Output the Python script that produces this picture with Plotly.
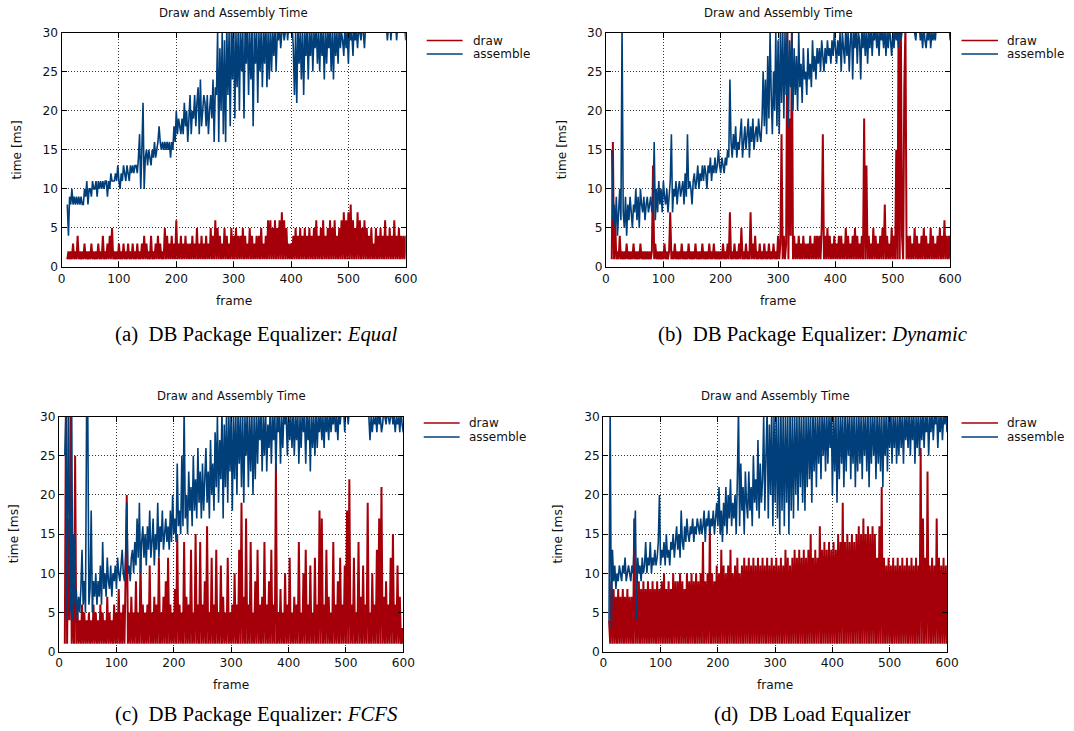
import plotly.graph_objects as go

W, H = 1074, 731

# frame numbers (every second frame, 10..600)
frames = list(range(10, 601, 2))

# ---------------- (a) Equal ----------------
a_draw = [
    1, 2, 1, 2, 1, 3, 1, 2, 1, 4,
    1, 2, 1, 2, 1, 3, 1, 2, 1, 2,
    1, 3, 1, 2, 1, 2, 1, 3, 1, 2,
    1, 4, 1, 2, 1, 3, 1, 4, 1, 5,
    1, 2, 1, 2, 1, 3, 1, 2, 1, 3,
    1, 2, 1, 3, 1, 2, 1, 3, 1, 2,
    1, 3, 1, 2, 1, 3, 1, 4, 1, 3,
    1, 2, 1, 4, 1, 2, 1, 3, 1, 4,
    1, 3, 1, 2, 1, 5, 1, 4, 1, 3,
    1, 4, 1, 3, 1, 6, 1, 3, 1, 4,
    1, 3, 1, 4, 1, 3, 1, 3, 1, 4,
    1, 3, 1, 5, 1, 3, 1, 4, 1, 3,
    1, 4, 1, 3, 1, 5, 1, 4, 1, 6,
    1, 5, 1, 4, 1, 3, 1, 5, 1, 4,
    1, 3, 1, 5, 1, 4, 1, 5, 1, 4,
    1, 4, 1, 5, 1, 4, 1, 3, 1, 5,
    1, 4, 1, 3, 1, 4, 1, 4, 1, 5,
    1, 3, 1, 4, 1, 6, 1, 6, 1, 5,
    1, 6, 1, 5, 1, 6, 1, 7, 1, 6,
    1, 5, 1, 3, 1, 3, 1, 4, 1, 5,
    1, 4, 1, 5, 1, 4, 1, 5, 1, 4,
    1, 5, 1, 4, 1, 5, 1, 6, 1, 4,
    1, 5, 1, 6, 1, 4, 1, 5, 1, 6,
    1, 5, 1, 6, 1, 4, 1, 5, 1, 6,
    1, 7, 1, 6, 1, 7, 1, 8, 1, 6,
    1, 5, 1, 7, 1, 6, 1, 5, 1, 6,
    1, 5, 1, 4, 1, 5, 1, 3, 1, 5,
    1, 4, 1, 5, 1, 4, 1, 6, 1, 4,
    1, 5, 1, 4, 1, 6, 1, 4, 1, 5,
    1, 4, 1, 4, 1, 4,
]
a_assemble = [
    8, 4, 9, 8, 10, 8, 9, 8, 9, 8,
    9, 8, 9, 8, 8, 10, 9, 11, 8, 10,
    10, 9, 11, 10, 10, 11, 9, 11, 10, 11,
    10, 11, 10, 11, 11, 9, 11, 10, 12, 11,
    11, 11, 12, 11, 13, 11, 10, 12, 11, 13,
    12, 11, 13, 12, 11, 13, 12, 13, 12, 13,
    13, 12, 14, 17, 10, 15, 21, 10, 14, 15,
    13, 15, 14, 13, 15, 14, 16, 14, 15, 16,
    18, 16, 15, 16, 15, 16, 15, 16, 15, 16,
    14, 16, 15, 18, 16, 20, 17, 19, 18, 17,
    19, 17, 21, 18, 20, 16, 19, 22, 17, 20,
    19, 22, 18, 21, 23, 17, 24, 18, 20, 22,
    21, 18, 22, 17, 20, 22, 19, 24, 16, 23,
    22, 30, 16, 28, 20, 30, 17, 29, 16, 31,
    22, 30, 18, 31, 24, 32, 19, 30, 23, 31,
    20, 31, 25, 30, 19, 31, 26, 32, 22, 30,
    24, 31, 18, 30, 26, 31, 21, 30, 25, 31,
    23, 30, 26, 32, 23, 30, 24, 31, 25, 30,
    27, 31, 25, 30, 29, 31, 28, 30, 31, 29,
    30, 32, 29, 31, 30, 30, 31, 28, 22, 30,
    21, 31, 26, 30, 24, 31, 22, 30, 27, 31,
    24, 30, 27, 31, 25, 30, 28, 31, 26, 30,
    25, 31, 27, 30, 24, 31, 26, 30, 28, 31,
    25, 30, 24, 31, 27, 30, 26, 31, 28, 30,
    29, 27, 31, 28, 30, 26, 31, 29, 30, 27,
    31, 29, 30, 28, 31, 30, 29, 31, 30, 28,
    31, 30, 32, 31, 30, 31, 32, 31, 30, 31,
    32, 31, 31, 32, 31, 33, 31, 32, 31, 29,
    31, 32, 29, 31, 32, 31, 32, 29, 31, 32,
    31, 32, 31, 30, 31, 29,
]

# ---------------- (b) Dynamic ----------------
b_draw = [
    1, 16, 1, 6, 1, 2, 1, 4, 1, 2,
    1, 2, 1, 3, 1, 2, 1, 2, 1, 3,
    1, 2, 1, 2, 1, 3, 1, 2, 1, 2,
    1, 2, 1, 2, 1, 2, 13, 1, 3, 1,
    2, 1, 2, 1, 2, 1, 3, 1, 2, 1,
    2, 7, 1, 2, 1, 3, 1, 2, 1, 2,
    1, 3, 1, 2, 1, 2, 1, 3, 1, 2,
    1, 2, 1, 3, 1, 2, 1, 2, 1, 3,
    1, 2, 1, 2, 1, 3, 1, 2, 1, 3,
    1, 2, 1, 2, 1, 2, 1, 3, 1, 2,
    1, 3, 1, 7, 1, 2, 1, 3, 1, 2,
    1, 3, 1, 5, 1, 2, 1, 3, 1, 2,
    1, 7, 1, 3, 1, 4, 1, 2, 1, 3,
    1, 2, 1, 3, 1, 2, 1, 3, 1, 2,
    1, 3, 1, 2, 1, 4, 1, 3, 17, 1,
    4, 1, 3, 31, 1, 19, 4, 31, 1, 4,
    1, 3, 1, 4, 1, 3, 1, 4, 1, 3,
    1, 3, 1, 4, 1, 3, 1, 4, 1, 4,
    1, 4, 1, 5, 17, 1, 4, 1, 5, 1,
    4, 1, 3, 1, 4, 1, 3, 1, 4, 1,
    4, 1, 3, 1, 5, 1, 4, 1, 3, 1,
    4, 1, 5, 1, 4, 1, 3, 1, 4, 1,
    19, 1, 13, 1, 4, 1, 3, 1, 5, 1,
    4, 1, 3, 1, 4, 1, 5, 1, 8, 1,
    4, 1, 3, 1, 5, 1, 4, 1, 15, 1,
    31, 1, 31, 4, 1, 23, 31, 1, 4, 1,
    4, 1, 3, 1, 5, 1, 4, 1, 3, 1,
    4, 1, 5, 1, 4, 1, 3, 1, 5, 1,
    4, 1, 3, 1, 4, 1, 5, 1, 4, 1,
    6, 1, 4, 1, 4, 1,
]
b_assemble = [
    15, 6, 8, 5, 9, 4, 7, 10, 6, 31,
    7, 5, 9, 4, 8, 6, 9, 7, 5, 8,
    7, 10, 6, 9, 5, 10, 8, 7, 9, 6,
    8, 9, 7, 8, 9, 7, 8, 16, 6, 10,
    7, 11, 8, 10, 7, 11, 9, 8, 10, 7,
    9, 11, 17, 7, 10, 9, 11, 8, 10, 11,
    9, 10, 11, 8, 12, 9, 17, 10, 11, 10,
    8, 11, 12, 10, 11, 13, 10, 12, 11, 13,
    11, 13, 12, 10, 13, 12, 14, 11, 13, 12,
    14, 12, 13, 15, 13, 12, 14, 13, 12, 14,
    13, 15, 14, 24, 16, 14, 17, 15, 18, 14,
    16, 15, 17, 19, 14, 16, 18, 15, 17, 19,
    14, 18, 16, 19, 15, 17, 18, 16, 19, 17,
    16, 19, 25, 18, 24, 17, 27, 19, 30, 22,
    17, 25, 20, 30, 18, 29, 17, 30, 21, 31,
    19, 30, 22, 31, 18, 29, 23, 30, 20, 28,
    22, 27, 20, 30, 23, 26, 21, 28, 24, 25,
    22, 28, 24, 26, 23, 29, 25, 27, 24, 28,
    26, 28, 25, 29, 27, 25, 28, 26, 29, 27,
    28, 26, 29, 27, 30, 28, 26, 29, 27, 30,
    25, 30, 28, 26, 31, 27, 30, 25, 29, 31,
    24, 30, 28, 31, 26, 30, 29, 24, 31, 28,
    30, 27, 31, 26, 30, 28, 31, 27, 30, 29,
    31, 28, 30, 27, 31, 29, 30, 28, 31, 27,
    30, 28, 31, 29, 27, 30, 28, 31, 29, 30,
    28, 31, 29, 30, 31, 30, 31, 32, 31, 30,
    31, 30, 32, 31, 30, 29, 31, 30, 31, 29,
    30, 28, 31, 29, 28, 30, 29, 31, 28, 30,
    29, 30, 29, 31, 30, 32, 31, 30, 31, 32,
    31, 30, 31, 32, 31, 29,
]

# ---------------- (c) FCFS ----------------
c_draw = [
    1, 31, 1, 17, 4, 31, 1, 7, 1, 25,
    1, 5, 1, 4, 1, 6, 1, 5, 1, 4,
    1, 5, 1, 4, 1, 6, 1, 5, 1, 4,
    1, 6, 1, 5, 1, 4, 1, 7, 1, 5,
    1, 4, 1, 6, 1, 5, 1, 8, 1, 5,
    1, 6, 1, 10, 20, 1, 5, 1, 7, 1,
    5, 1, 9, 1, 5, 1, 12, 1, 6, 1,
    5, 1, 6, 1, 11, 1, 5, 1, 7, 1,
    6, 1, 12, 1, 5, 1, 7, 1, 9, 1,
    12, 1, 6, 1, 5, 1, 8, 1, 15, 1,
    6, 1, 5, 1, 14, 1, 7, 1, 6, 1,
    13, 1, 5, 1, 15, 1, 6, 1, 14, 1,
    6, 1, 9, 1, 16, 1, 5, 1, 12, 1,
    6, 1, 13, 1, 5, 1, 11, 1, 7, 1,
    5, 1, 12, 1, 5, 1, 6, 1, 10, 1,
    6, 1, 13, 1, 19, 1, 7, 1, 17, 1,
    6, 1, 14, 1, 5, 1, 9, 1, 13, 1,
    6, 1, 7, 1, 14, 1, 6, 1, 9, 1,
    13, 1, 6, 1, 24, 1, 5, 1, 8, 1,
    5, 1, 10, 1, 6, 1, 12, 1, 5, 1,
    7, 1, 6, 1, 14, 1, 5, 1, 10, 1,
    13, 1, 6, 1, 11, 1, 5, 1, 12, 1,
    6, 1, 18, 1, 17, 1, 6, 1, 13, 1,
    7, 1, 5, 1, 14, 1, 6, 1, 9, 1,
    12, 1, 6, 1, 11, 1, 18, 1, 22, 1,
    6, 1, 12, 1, 5, 1, 14, 1, 7, 1,
    11, 1, 6, 1, 19, 1, 5, 1, 10, 1,
    6, 1, 13, 1, 17, 1, 21, 1, 7, 1,
    9, 1, 6, 1, 12, 1, 15, 1, 6, 1,
    11, 1, 7, 1, 3, 1,
]
c_assemble = [
    25, 31, 4, 31, 17, 5, 31, 4, 15, 6,
    8, 4, 7, 5, 8, 13, 6, 9, 5, 31,
    31, 6, 8, 18, 5, 9, 7, 10, 6, 9,
    7, 11, 6, 14, 8, 10, 7, 12, 9, 8,
    11, 7, 10, 9, 11, 8, 12, 10, 9, 11,
    13, 10, 9, 12, 19, 10, 11, 9, 12, 13,
    10, 14, 11, 17, 12, 19, 10, 14, 16, 12,
    15, 11, 16, 13, 18, 12, 14, 17, 11, 15,
    13, 19, 12, 16, 14, 18, 13, 15, 17, 14,
    16, 13, 18, 14, 20, 15, 17, 14, 24, 16,
    18, 15, 25, 16, 31, 17, 20, 15, 23, 18,
    21, 16, 25, 18, 22, 17, 26, 19, 23, 17,
    24, 18, 22, 26, 19, 23, 17, 27, 20, 24,
    18, 28, 21, 30, 19, 27, 22, 31, 17, 29,
    21, 31, 19, 30, 23, 31, 18, 30, 22, 31,
    20, 31, 24, 30, 21, 31, 19, 30, 25, 31,
    21, 30, 23, 31, 20, 30, 22, 31, 24, 30,
    27, 31, 23, 30, 25, 31, 23, 29, 26, 31,
    24, 30, 27, 31, 23, 30, 28, 31, 24, 30,
    26, 31, 29, 30, 25, 31, 27, 30, 26, 31,
    25, 30, 27, 31, 24, 30, 26, 31, 28, 30,
    24, 31, 27, 30, 23, 31, 26, 30, 25, 31,
    26, 30, 28, 31, 27, 30, 26, 31, 28, 30,
    27, 31, 28, 30, 29, 31, 28, 30, 27, 31,
    29, 31, 30, 31, 28, 32, 31, 29, 31, 32,
    31, 32, 31, 33, 32, 31, 32, 33, 31, 32,
    32, 31, 33, 32, 31, 30, 27, 30, 28, 30,
    29, 30, 28, 31, 29, 30, 28, 29, 31, 30,
    29, 31, 30, 29, 30, 31, 29, 30, 28, 30,
    29, 30, 28, 31, 29, 28,
]

# ---------------- (d) Load Equalizer ----------------
d_draw = [
    4, 1, 9, 1, 8, 1, 7, 1, 8, 1,
    7, 1, 8, 1, 7, 1, 8, 1, 7, 1,
    7, 1, 17, 1, 8, 1, 9, 1, 8, 1,
    9, 1, 8, 1, 9, 1, 8, 1, 9, 1,
    8, 1, 9, 1, 8, 1, 9, 1, 10, 1,
    8, 1, 9, 1, 8, 1, 10, 1, 9, 1,
    9, 1, 10, 1, 9, 1, 8, 1, 10, 1,
    9, 1, 10, 1, 9, 1, 10, 1, 9, 1,
    10, 1, 14, 1, 9, 1, 10, 1, 16, 1,
    10, 1, 9, 1, 11, 1, 10, 1, 13, 1,
    11, 1, 10, 1, 11, 1, 13, 1, 10, 1,
    11, 1, 12, 1, 10, 1, 11, 1, 12, 1,
    11, 1, 12, 1, 11, 1, 12, 1, 11, 1,
    12, 1, 11, 1, 12, 1, 11, 1, 12, 1,
    11, 1, 12, 1, 11, 1, 12, 1, 11, 1,
    12, 1, 11, 1, 13, 1, 12, 1, 11, 1,
    12, 1, 13, 1, 12, 1, 13, 1, 12, 1,
    13, 1, 12, 1, 13, 1, 15, 1, 12, 1,
    13, 1, 12, 1, 16, 1, 13, 1, 14, 1,
    13, 1, 14, 1, 13, 1, 14, 1, 13, 1,
    15, 1, 14, 1, 19, 1, 14, 1, 15, 1,
    14, 1, 15, 1, 14, 1, 15, 1, 16, 1,
    15, 1, 17, 1, 15, 1, 16, 1, 15, 1,
    16, 1, 15, 1, 12, 1, 16, 1, 21, 1,
    12, 1, 11, 1, 12, 1, 11, 1, 12, 1,
    11, 1, 12, 1, 11, 1, 12, 1, 11, 1,
    12, 1, 11, 1, 12, 1, 11, 1, 12, 1,
    11, 1, 26, 1, 17, 1, 12, 1, 23, 1,
    11, 1, 12, 1, 11, 1, 17, 1, 12, 1,
    11, 1, 12, 1, 11, 1,
]
d_assemble = [
    4, 31, 3, 13, 9, 11, 8, 10, 9, 11,
    10, 9, 11, 10, 12, 9, 10, 11, 10, 9,
    11, 10, 14, 18, 4, 12, 10, 11, 9, 12,
    10, 11, 14, 10, 12, 11, 14, 10, 12, 11,
    13, 11, 12, 14, 20, 11, 13, 12, 14, 11,
    15, 12, 13, 11, 14, 13, 15, 12, 14, 16,
    13, 15, 12, 18, 14, 13, 16, 14, 17, 15,
    14, 16, 15, 17, 14, 16, 15, 17, 16, 15,
    17, 15, 16, 18, 14, 17, 16, 18, 15, 17,
    16, 18, 15, 17, 19, 16, 21, 15, 18, 14,
    19, 16, 21, 15, 20, 17, 22, 16, 19, 17,
    20, 15, 22, 31, 16, 24, 18, 21, 15, 23,
    19, 17, 23, 18, 21, 16, 25, 19, 22, 18,
    27, 17, 24, 19, 22, 30, 18, 25, 31, 17,
    29, 20, 31, 16, 30, 19, 31, 17, 30, 15,
    31, 18, 30, 16, 31, 19, 30, 15, 31, 18,
    30, 17, 31, 20, 30, 18, 31, 21, 30, 19,
    31, 18, 30, 21, 31, 22, 30, 19, 31, 23,
    30, 21, 31, 24, 30, 22, 31, 25, 30, 23,
    31, 24, 30, 26, 31, 20, 30, 23, 31, 19,
    30, 22, 31, 24, 30, 21, 31, 23, 30, 25,
    31, 22, 30, 24, 31, 21, 30, 23, 31, 24,
    30, 22, 31, 25, 30, 23, 31, 21, 30, 24,
    31, 25, 30, 22, 31, 24, 30, 23, 31, 21,
    30, 25, 31, 23, 30, 26, 31, 24, 30, 26,
    31, 24, 30, 25, 31, 26, 30, 24, 31, 27,
    30, 26, 31, 25, 30, 27, 31, 24, 30, 26,
    31, 25, 30, 27, 31, 26, 30, 28, 31, 25,
    30, 28, 31, 27, 30, 29, 31, 26, 30, 28,
    31, 27, 30, 29, 31, 28,
]

x_ticks = [0, 100, 200, 300, 400, 500, 600]
y_ticks = [0, 5, 10, 15, 20, 25, 30]
series_names = ["draw", "assemble"]
chart_title = "Draw and Assembly Time"
x_title = "frame"
y_title = "time [ms]"
captions = [
    "(a)  DB Package Equalizer: <i>Equal</i>",
    "(b)  DB Package Equalizer: <i>Dynamic</i>",
    "(c)  DB Package Equalizer: <i>FCFS</i>",
    "(d)  DB Load Equalizer",
]

RED = "#a5000a"
BLUE = "#003f7a"
SANS = "DejaVu Sans"
SERIF = "Liberation Serif"


# the photographed page comes out slightly scaled/offset; map target pixel
# positions (as in the reference) back to page pixels
def X(x):
    return (x - 2.3) / 0.9874


def Y(y):
    return (y - 6.0) / 0.9806


# target pixel layout of each panel: plot box, legend, label positions
panels = [
    dict(draw=a_draw, asm=a_assemble, box=(60, 405, 31.5, 266), title_y=12,
         ylab_x=15, xlab_y=300, leg=(X(426), X(462), X(470), Y(39.5), Y(53)),
         cap=(255, 333)),
    dict(draw=b_draw, asm=b_assemble, box=(605.7, 950.7, 31.5, 266), title_y=12,
         ylab_x=561, xlab_y=300, leg=(972, 1009, 1016, Y(39.5), Y(53)),
         cap=(813, 333)),
    dict(draw=c_draw, asm=c_assemble, box=(57.5, 402.5, 415.5, 650.5), title_y=395,
         ylab_x=12.5, xlab_y=684, leg=(X(423), X(459), X(466), Y(422), Y(436)),
         cap=(255, None)),
    dict(draw=d_draw, asm=d_assemble, box=(603, 947.5, 415.5, 650.5), title_y=395,
         ylab_x=558, xlab_y=684, leg=(972, 1009, 1016, Y(422), Y(436)),
         cap=(812, None)),
]


def px(x):
    return x / W


def py(y):
    return 1 - y / H


fig = go.Figure()
annotations = []
shapes = []
layout_axes = {}

for i, p in enumerate(panels):
    n = i + 1
    xa = "x" if n == 1 else f"x{n}"
    ya = "y" if n == 1 else f"y{n}"
    xk = "xaxis" if n == 1 else f"xaxis{n}"
    yk = "yaxis" if n == 1 else f"yaxis{n}"
    x0, x1, y0, y1 = p["box"]
    x0, x1, y0, y1 = X(x0), X(x1), Y(y0), Y(y1)

    fig.add_trace(go.Scatter(x=frames[:len(p["draw"])], y=p["draw"], mode="lines",
                             name=series_names[0], xaxis=xa, yaxis=ya, showlegend=False,
                             line=dict(color=RED, width=2.0, simplify=False)))
    fig.add_trace(go.Scatter(x=frames[:len(p["asm"])], y=p["asm"], mode="lines",
                             name=series_names[1], xaxis=xa, yaxis=ya, showlegend=False,
                             line=dict(color=BLUE, width=1.6, simplify=False)))

    common = dict(showline=True, linecolor="black", linewidth=1, mirror="ticks",
                  ticks="inside", ticklen=5, tickcolor="black", tickwidth=1,
                  showgrid=True, gridcolor="#333333", gridwidth=1, griddash="1px,2px",
                  zeroline=False, fixedrange=True,
                  tickfont=dict(family=SANS, size=12.2, color="#111111"))
    layout_axes[xk] = dict(common, domain=[px(x0), px(x1)], range=[0, 600],
                           tickmode="array", tickvals=x_ticks, anchor=ya)
    layout_axes[yk] = dict(common, domain=[py(y1), py(y0)], range=[0, 30],
                           tickmode="array", tickvals=y_ticks, anchor=xa)

    cx = (x0 + x1) / 2
    cy = (y0 + y1) / 2
    annotations.append(dict(text=chart_title, x=px(cx), y=py(Y(p["title_y"])), xref="paper", yref="paper",
                            xanchor="center", yanchor="middle", showarrow=False,
                            font=dict(family=SANS, size=11.7, color="#111111")))
    annotations.append(dict(text=x_title, x=px(cx), y=py(Y(p["xlab_y"])), xref="paper", yref="paper",
                            xanchor="center", yanchor="middle", showarrow=False,
                            font=dict(family=SANS, size=12.2, color="#111111")))
    annotations.append(dict(text=y_title, x=px(X(p["ylab_x"])), y=py(cy), xref="paper", yref="paper",
                            xanchor="center", yanchor="middle", showarrow=False, textangle=-90,
                            font=dict(family=SANS, size=12.2, color="#111111")))
    lx0, lx1, tx, ly1, ly2 = p["leg"]
    for name, col, ly in ((series_names[0], RED, ly1), (series_names[1], BLUE, ly2)):
        shapes.append(dict(type="line", xref="paper", yref="paper",
                           x0=px(lx0), x1=px(lx1), y0=py(ly), y1=py(ly),
                           line=dict(color=col, width=1.5)))
        annotations.append(dict(text=name, x=px(tx), y=py(ly), xref="paper", yref="paper",
                                xanchor="left", yanchor="middle", showarrow=False,
                                font=dict(family=SANS, size=12, color="#111111")))
    capx, capy = p["cap"]
    if capy is None:
        annotations.append(dict(text=captions[i], x=px(X(capx)), y=0.0, xref="paper", yref="paper",
                                xanchor="center", yanchor="bottom", showarrow=False, borderpad=0,
                                yshift=-3,
                                font=dict(family=SERIF, size=20.8, color="black")))
    else:
        annotations.append(dict(text=captions[i], x=px(X(capx)), y=py(Y(capy)), xref="paper", yref="paper",
                                xanchor="center", yanchor="middle", showarrow=False,
                                font=dict(family=SERIF, size=20.8, color="black")))

fig.update_layout(width=W, height=H, autosize=False,
                  margin=dict(l=0, r=0, t=0, b=0),
                  paper_bgcolor="white", plot_bgcolor="white",
                  showlegend=False, annotations=annotations, shapes=shapes,
                  **layout_axes)

fig.write_html("out.html", config={"displayModeBar": False},
               post_script="document.body.style.margin='0px';document.body.style.overflow='hidden';")
